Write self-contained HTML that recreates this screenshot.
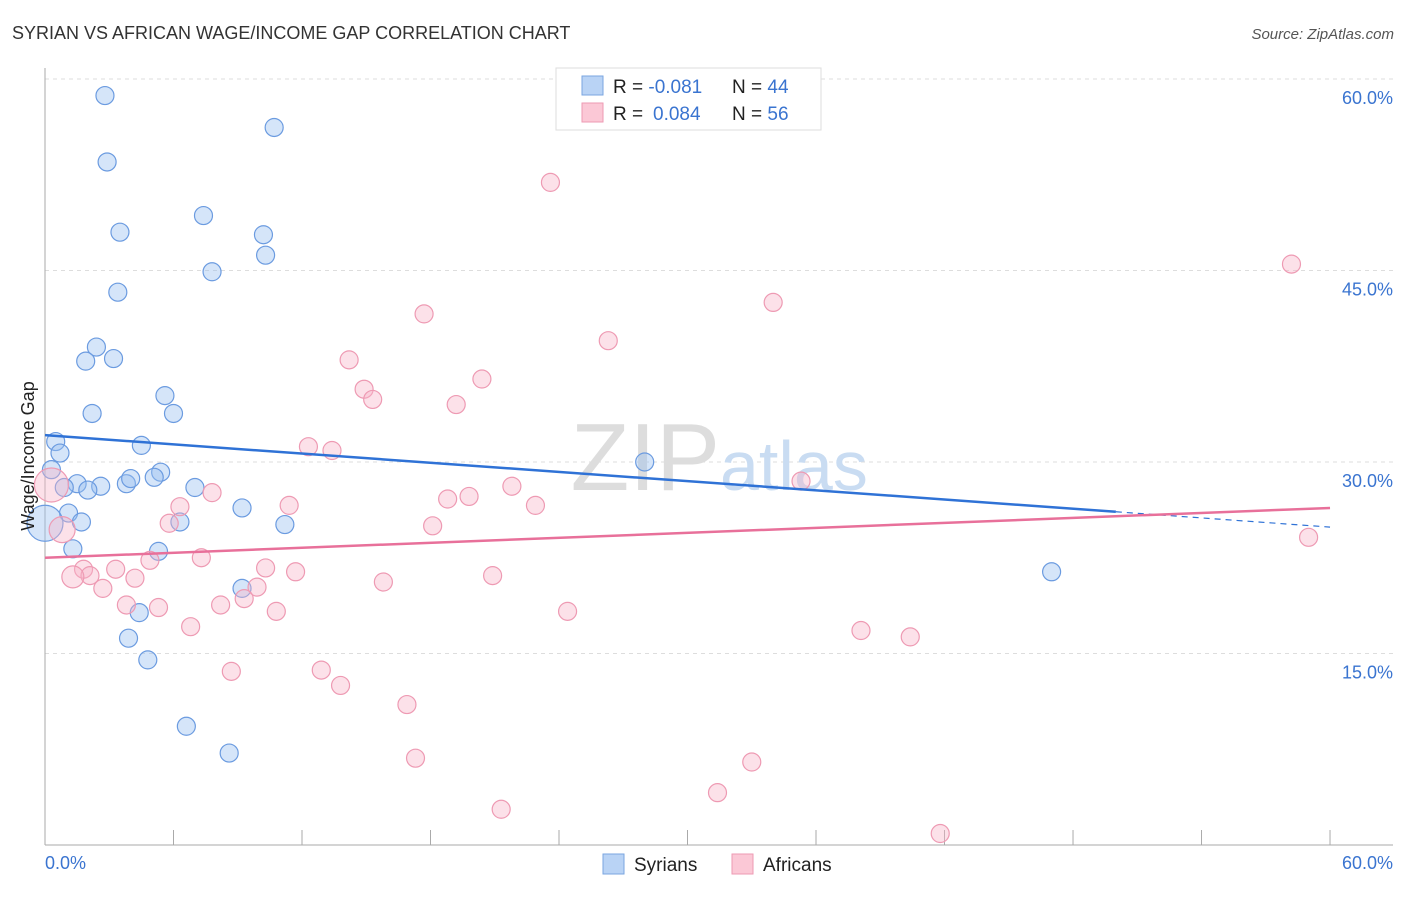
<!DOCTYPE html>
<html><head><meta charset="utf-8"><style>
body{margin:0;background:#fff;font-family:"Liberation Sans",sans-serif}
svg text{font-family:"Liberation Sans",sans-serif}
</style></head><body>
<svg id="chart" width="1406" height="892">
<text x="12" y="39" font-size="18" fill="#333">SYRIAN VS AFRICAN WAGE/INCOME GAP CORRELATION CHART</text>
<text x="1394" y="39" font-size="15" fill="#555" font-style="italic" text-anchor="end">Source: ZipAtlas.com</text>
<g id="grid"></g>
<text x="720" y="490" font-size="96" fill="#ddd" text-anchor="end" font-family="Liberation Serif">ZIP</text>
<text x="720" y="490" font-size="70" fill="#c9dcf2">atlas</text>
<g id="marks"></g>
<text x="34" y="456" font-size="18" fill="#222" text-anchor="middle" transform="rotate(-90 34 456)">Wage/Income Gap</text>
<text x="45" y="869" font-size="18" fill="#3a74d0">0.0%</text>
<text x="1393" y="869" font-size="18" fill="#3a74d0" text-anchor="end">60.0%</text>
<g>
<rect x="556" y="68" width="265" height="62" fill="#fff" stroke="#ddd"/>
<rect x="582" y="76" width="21" height="19" fill="#b9d3f5" stroke="#7aa6e0"/>
<rect x="582" y="103" width="21" height="19" fill="#fbc8d6" stroke="#ee9ab3"/>
<text x="613" y="93" font-size="19" fill="#222">R = <tspan fill="#3a74d0">-0.081</tspan><tspan x="732">N = </tspan><tspan fill="#3a74d0">44</tspan></text>
<text x="613" y="120" font-size="19" fill="#222">R = <tspan fill="#3a74d0" x="653">0.084</tspan><tspan x="732">N = </tspan><tspan fill="#3a74d0">56</tspan></text>
</g>
<g>
<rect x="603" y="854" width="21" height="20" fill="#b9d3f5" stroke="#7aa6e0"/>
<text x="634" y="871" font-size="19" fill="#222">Syrians</text>
<rect x="732" y="854" width="21" height="20" fill="#fbc8d6" stroke="#ee9ab3"/>
<text x="763" y="871" font-size="19" fill="#222">Africans</text>
</g>
</svg>
<script>
const yTicks=[15,30,45,60];
const yTickLabels=["15.0%","30.0%","45.0%","60.0%"];
const xTicks=[0,6,12,18,24,30,36,42,48,54,60];
const syrX=[2.8,10.7,2.9,7.4,3.5,10.2,10.3,7.8,3.4,2.4,1.9,3.2,5.6,2.2,6.0,0.5,4.5,0.7,5.4,5.1,0.3,3.8,4.0,1.5,2.6,2.0,0.9,7.0,9.2,1.1,1.7,6.3,11.2,1.3,5.3,9.2,4.4,3.9,4.8,6.6,8.6,28.0,47.0,0.0];
const syrY=[58.7,56.2,53.5,49.3,48.0,47.8,46.2,44.9,43.3,39.0,37.9,38.1,35.2,33.8,33.8,31.6,31.3,30.7,29.2,28.8,29.4,28.3,28.7,28.3,28.1,27.8,28.0,28.0,26.4,26.0,25.3,25.3,25.1,23.2,23.0,20.1,18.2,16.2,14.5,9.3,7.2,30.0,21.4,25.2];
const syrR=[9,9,9,9,9,9,9,9,9,9,9,9,9,9,9,9,9,9,9,9,9,9,9,9,9,9,9,9,9,9,9,9,9,9,9,9,9,9,9,9,9,9,9,18];
const afrX=[23.6,58.2,34.0,17.7,26.3,14.2,20.4,14.9,15.3,19.2,12.3,13.4,35.3,21.8,7.8,18.8,19.8,11.4,22.9,6.3,5.8,18.1,59.0,7.3,4.9,1.8,3.3,10.3,11.7,2.1,4.2,20.9,15.8,2.7,9.9,9.3,3.8,5.3,8.2,10.8,24.4,6.8,38.1,40.4,8.7,12.9,13.8,16.9,17.3,33.0,31.4,21.3,41.8,1.3,0.3,0.8];
const afrY=[51.9,45.5,42.5,41.6,39.5,38.0,36.5,35.7,34.9,34.5,31.2,30.9,28.5,28.1,27.6,27.1,27.3,26.6,26.6,26.5,25.2,25.0,24.1,22.5,22.3,21.6,21.6,21.7,21.4,21.1,20.9,21.1,20.6,20.1,20.2,19.3,18.8,18.6,18.8,18.3,18.3,17.1,16.8,16.3,13.6,13.7,12.5,11.0,6.8,6.5,4.1,2.8,0.9,21.0,28.2,24.7];
const afrR=afrX.map((_,i)=>i>=53?[11,17,13][i-53]:9);
const syrTrend=[32.1,24.9];
const afrTrend=[22.5,26.4];
const X=v=>45+v*21.417, Y=v=>845-v*12.767;
const NS="http://www.w3.org/2000/svg";
const grid=document.getElementById('grid'), marks=document.getElementById('marks');
function mk(p,tag,a){const e=document.createElementNS(NS,tag);for(const k in a)e.setAttribute(k,a[k]);p.appendChild(e);return e;}
yTicks.forEach((t,i)=>{
 const l=mk(grid,'line',{x1:45,x2:1393,y1:Y(t),y2:Y(t),stroke:'#ddd','stroke-dasharray':'4,4'});
 
 
 const tx=mk(grid,'text',{x:1393,y:Y(t)+25,'font-size':18,fill:'#3a74d0','text-anchor':'end'});
 tx.textContent=yTickLabels[i];
 
 
});
const ax=mk(grid,'line',{x1:45,x2:1393,y1:845,y2:845,stroke:'#aaa'});


const ay=mk(grid,'line',{x1:45,x2:45,y1:68,y2:845,stroke:'#aaa'});


xTicks.forEach(t=>{
 const l=mk(grid,'line',{x1:X(t),x2:X(t),y1:830,y2:845,stroke:'#aaa'});
 
 
});
syrX.forEach((v,i)=>{
 const c=mk(marks,'circle',{cx:X(v),cy:Y(syrY[i]),r:syrR[i],fill:'rgba(150,190,240,0.4)',stroke:'#6b9be0','stroke-width':1.2});
 
 
});
afrX.forEach((v,i)=>{
 const c=mk(marks,'circle',{cx:X(v),cy:Y(afrY[i]),r:afrR[i],fill:'rgba(248,180,200,0.4)',stroke:'#ee9ab3','stroke-width':1.2});
 
 
});
const sy=x=>syrTrend[0]+(syrTrend[1]-syrTrend[0])*x/60;
const t1=mk(marks,'line',{x1:X(0),y1:Y(sy(0)),x2:X(50),y2:Y(sy(50)),stroke:'#2f72d6','stroke-width':2.5});


const t2=mk(marks,'line',{x1:X(50),y1:Y(sy(50)),x2:X(60),y2:Y(sy(60)),stroke:'#2f72d6','stroke-width':1.2,'stroke-dasharray':'6,5'});


const t3=mk(marks,'line',{x1:X(0),y1:Y(afrTrend[0]),x2:X(60),y2:Y(afrTrend[1]),stroke:'#e8709a','stroke-width':2.5});


</script>
</body></html>
